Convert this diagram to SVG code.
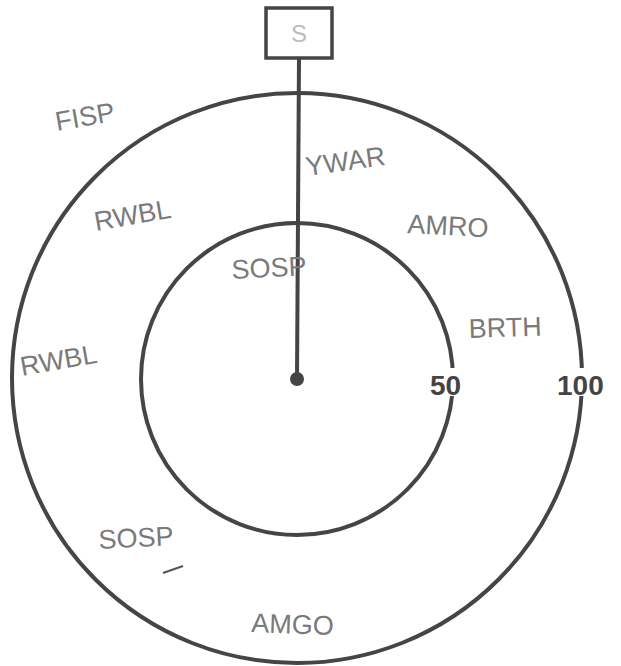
<svg xmlns="http://www.w3.org/2000/svg" width="621" height="666" viewBox="0 0 621 666">
<style>
.ring{fill:none;stroke:#454545;stroke-width:4}
.lbl{font-family:"Liberation Sans",Arial,sans-serif;fill:#7a7a7a;font-size:27px;font-weight:normal}
.num{font-family:"Liberation Sans",Arial,sans-serif;fill:#444;font-size:28px;font-weight:bold}
</style>
<rect width="621" height="666" fill="#fff"/>
<g id="outer-ring"><circle class="ring" cx="297" cy="378" r="285"/></g>
<g id="inner-ring"><circle class="ring" cx="297" cy="379" r="156"/></g>
<g id="connectors">
<line x1="299" y1="58" x2="297" y2="378" stroke="#454545" stroke-width="4"/>
</g>
<g id="node-S">
<rect x="266" y="8" width="66" height="50" fill="#fff" stroke="#454545" stroke-width="3.5"/>
<text x="299" y="42" text-anchor="middle" font-family="Liberation Sans,Arial,sans-serif" font-size="24" fill="#bbb">S</text>
</g>
<g id="center"><circle cx="297" cy="379" r="7" fill="#444"/></g>
<g id="labels">
<text class="lbl" transform="translate(57,131) rotate(-10)">FISP</text>
<text class="lbl" transform="translate(96,231) rotate(-10)">RWBL</text>
<text class="lbl" transform="translate(307,176) rotate(-8)">YWAR</text>
<text class="lbl" transform="translate(407,233) rotate(3)">AMRO</text>
<text class="lbl" transform="translate(232,279) rotate(-3)">SOSP</text>
<text class="lbl" transform="translate(469,338) rotate(-2)">BRTH</text>
<text class="lbl" transform="translate(22,376) rotate(-10)">RWBL</text>
<text class="lbl" transform="translate(99,549) rotate(-3)">SOSP</text>
<line x1="163" y1="573" x2="183" y2="566" stroke="#555" stroke-width="2"/>
<text class="lbl" transform="translate(251,632) rotate(2)">AMGO</text>
<rect x="430" y="368" width="38" height="28" fill="#fff"/>
<rect x="556" y="368" width="52" height="28" fill="#fff"/>
<text class="num" x="430" y="395">50</text>
<text class="num" x="557" y="395">100</text>
</g>
</svg>
